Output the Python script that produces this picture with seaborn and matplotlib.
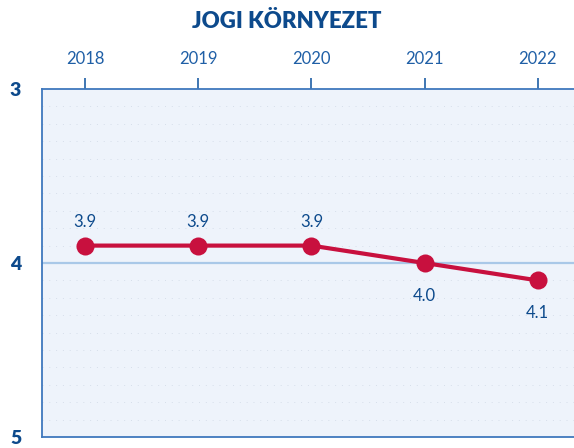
import matplotlib
matplotlib.use("Agg")
import matplotlib.pyplot as plt
import seaborn as sns
import pandas as pd
import numpy as np
from matplotlib.ticker import MultipleLocator

years = [2018, 2019, 2020, 2021, 2022]
values = [3.9, 3.9, 3.9, 4.0, 4.1]
labels = ["3.9", "3.9", "3.9", "4.0", "4.1"]
label_above = [True, True, True, False, False]
y_ticks = [3, 4, 5]

sns.set_theme(style="white")
plt.rcParams['font.family'] = ['Lato', 'DejaVu Sans']

df = pd.DataFrame({"year": years, "value": values})

fig = plt.figure(figsize=(5.74, 4.48), dpi=100)
ax = fig.add_axes([42/574, 11/448, 1 - 42/574, (437-89)/448])
ax.set_facecolor("#eef3fb")

blue = "#1f5fa6"
dark = "#0d4a8c"
red = "#c8103e"

# faint dotted grid
ax.yaxis.set_minor_locator(MultipleLocator(0.1))
ax.grid(which="minor", axis="y", color="#d6deea", linestyle=(0, (1, 6)), linewidth=0.7)
ax.axhline(4, color="#a9c8e8", linewidth=1.6, zorder=1)

sns.lineplot(data=df, x="year", y="value", ax=ax, color=red, linewidth=3,
             marker="o", markersize=13, markeredgewidth=0, zorder=3)

for x, v, t, up in zip(years, values, labels, label_above):
    off = 11 if up else -18
    ax.annotate(t, (x, v), xytext=(0, off), textcoords="offset points",
                ha="center", va="bottom" if up else "top", fontsize=12, color=dark)

ax.set_xlim(2017.62, 2022.32)
ax.set_ylim(5, 3)
ax.set_xticks(years)
ax.set_xticklabels([str(y) for y in years])
ax.set_yticks(y_ticks)
ax.set_yticklabels([str(y) for y in y_ticks])
ax.xaxis.tick_top()
ax.tick_params(axis="x", which="major", direction="out", length=8, width=1.2, color=blue,
               labelcolor=blue, labelsize=12, pad=8)
ax.tick_params(axis="y", which="major", direction="out", length=9, width=1.2, color=blue,
               labelcolor=dark, labelsize=14, pad=6)
ax.tick_params(axis="y", which="minor", length=0)
for lab in ax.get_yticklabels():
    lab.set_fontweight("heavy")
ax.set_xlabel("")
ax.set_ylabel("")

for s in ["left", "top", "bottom"]:
    ax.spines[s].set_visible(True)
    ax.spines[s].set_color("#3f78bd")
    ax.spines[s].set_linewidth(1.3)
ax.spines["right"].set_visible(False)

fig.text(0.5, 1 - 21/448, "JOGI KÖRNYEZET", ha="center", va="center",
         fontsize=16, fontweight="heavy", color=dark)

fig.savefig("out.png", dpi=100)
